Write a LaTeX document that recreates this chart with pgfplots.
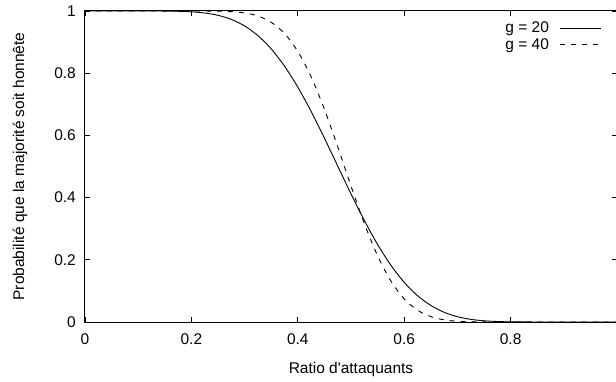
\documentclass[border=0pt]{standalone}
\usepackage{fontspec}
\setmainfont{Liberation Sans}
\usepackage{pgfplots}
\pgfplotsset{compat=1.18}
\begin{document}
\begin{tikzpicture}[font=\fontsize{15.5}{18}\selectfont]
\begin{axis}[
  at={(0pt,0pt)}, anchor=south west,
  scale only axis, width=532pt, height=311pt,
  xmin=0, xmax=1, ymin=0, ymax=1,
  xtick={0,0.2,0.4,0.6,0.8,1}, ytick={0,0.2,0.4,0.6,0.8,1},
  xticklabels={0,0.2,0.4,0.6,0.8,},
  /pgf/number format/assume math mode=true,
  tick align=inside, major tick length=5pt,
  axis line style={line width=1pt},
  every tick/.style={black, line width=0.8pt},
  xticklabel style={inner sep=0pt, anchor=north, yshift=-11pt},
  yticklabel style={inner sep=0pt, anchor=east, xshift=-9pt},
  every axis x label/.style={at={(axis description cs:0.5,0)}, anchor=base, yshift=-51pt, inner sep=0pt},
  every axis y label/.style={at={(axis description cs:-0.1222,0.5)}, rotate=90, anchor=center, inner sep=0pt},
  xlabel={Ratio d\textquotesingle attaquants},
  ylabel={Probabilité que la majorité soit honnête},
  legend style={draw=none, fill=none, at={(rel axis cs:0.9718,0.972)}, anchor=north east,
    inner sep=0pt, row sep=0pt, column sep=0pt, nodes={inner sep=2pt}},
  legend plot pos=right,
  legend cell align=right,
  legend image code/.code={\path (0pt,0pt); \draw[#1] (9pt,0pt) -- (50pt,0pt);},
]
\addplot[black, line width=0.9pt, smooth] coordinates {
(0,1) (0.05,1) (0.1,1) (0.15,0.9998) (0.175,0.9991) (0.2,0.9974) (0.225,0.9936)
(0.25,0.9861) (0.275,0.9730) (0.3,0.9520) (0.325,0.9209) (0.35,0.8782) (0.375,0.8228)
(0.4,0.7553) (0.425,0.6772) (0.45,0.5914) (0.475,0.5016) (0.5,0.4119) (0.525,0.3267)
(0.55,0.2493) (0.575,0.1825) (0.6,0.1275) (0.625,0.0848) (0.65,0.0532) (0.675,0.0313)
(0.7,0.0171) (0.725,0.0086) (0.75,0.0039) (0.775,0.0016) (0.8,0.0006) (0.85,0.0001)
(0.9,0) (1,0)};
\addlegendentry{g = 20}
\addplot[black, line width=0.9pt, dash pattern=on 5pt off 6pt, smooth] coordinates {
(0,1) (0.1,1) (0.2,1) (0.225,0.9999) (0.25,0.9994) (0.275,0.9979) (0.3,0.9938)
(0.325,0.9839) (0.35,0.9637) (0.375,0.9276) (0.4,0.8702) (0.425,0.7887) (0.45,0.6844)
(0.475,0.5638) (0.5,0.4373) (0.525,0.3170) (0.55,0.2130) (0.575,0.1318) (0.6,0.0744)
(0.625,0.0379) (0.65,0.0173) (0.675,0.0069) (0.7,0.0024) (0.725,0.0007) (0.75,0.0002)
(0.8,0) (1,0)};
\addlegendentry{g = 40}
\end{axis}
\pgfresetboundingbox
\useasboundingbox (-85pt,-59pt) rectangle (531pt,322pt);
\end{tikzpicture}
\end{document}
